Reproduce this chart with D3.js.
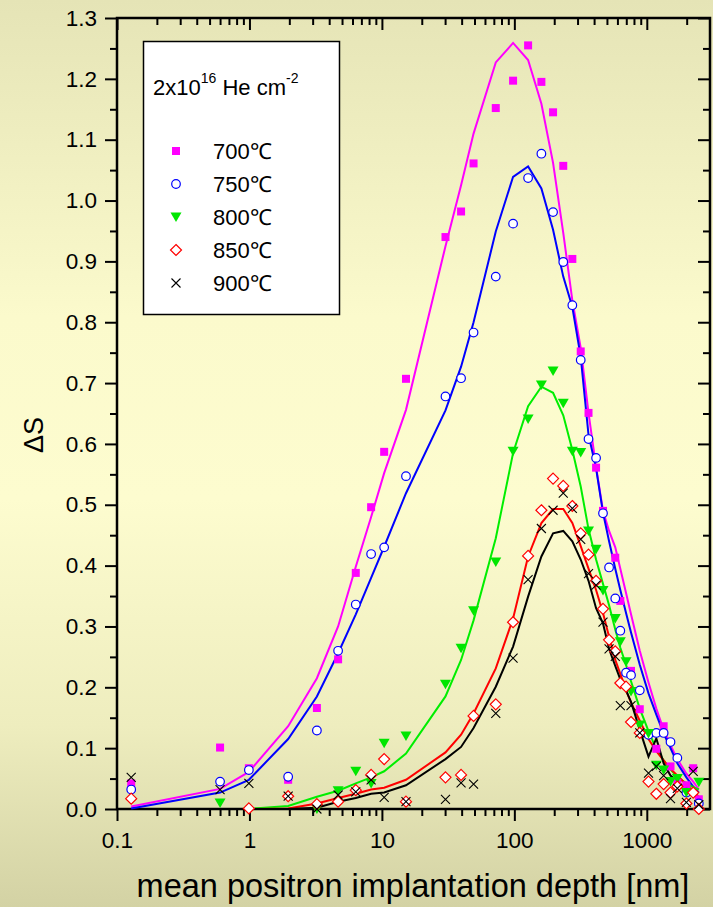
<!DOCTYPE html>
<html>
<head>
<meta charset="utf-8">
<script src="https://cdn.jsdelivr.net/npm/d3@7"></script>
<style>
  html, body { margin: 0; padding: 0; }
  svg { display: block; font-family: "Liberation Sans", Arial, sans-serif; }
</style>
</head>
<body>
<svg id="chart"></svg>
<script>
// mean implantation depth (nm), shared by all series
const depth = [0.128, 0.60, 0.99, 1.96, 3.23, 4.67, 6.35, 8.29, 10.4, 15.2, 30.2, 39.6, 49.2, 72.4, 97.8,
  127, 160, 196, 234, 274, 317, 363, 414, 467, 519, 578, 631, 697, 760, 885, 1030, 1180, 1340, 1510, 1700,
  1990, 2240, 2470];

const labels = ['700℃', '750℃', '800℃', '850℃', '900℃'];

// measured ΔS
const s700 = [0.042, 0.101, 0.067, 0.048, 0.166, 0.246, 0.388, 0.496, 0.587, 0.707, 0.940, 0.982, 1.061, 1.152,
  1.197, 1.255, 1.195, 1.145, 1.057, 0.904, 0.752, 0.651, 0.561, 0.49, null, 0.413, 0.342, null, 0.227, 0.164,
  null, 0.099, 0.136, 0.070, 0.043, 0.039, 0.067, 0.016];
const s750 = [0.032, 0.045, 0.064, 0.053, 0.129, 0.260, 0.336, 0.419, 0.430, 0.547, 0.678, 0.708, 0.783, 0.875,
  0.962, 1.037, 1.077, 0.981, 0.899, 0.828, 0.738, 0.608, 0.577, 0.486, 0.397, 0.346, 0.293, 0.224, 0.220, 0.195,
  0.122, 0.125, 0.125, 0.110, 0.084, 0.027, null, 0.009];
const s800 = [null, 0.010, null, null, 0.0, 0.030, 0.062, 0.042, 0.108, 0.120, 0.205, 0.264, 0.326, 0.406,
  0.588, 0.641, 0.697, 0.720, 0.667, 0.588, 0.586, 0.457, 0.427, 0.359, null, 0.313, 0.275, 0.242, 0.193, 0.138,
  0.124, 0.072, 0.064, 0.045, 0.05, 0.027, null, 0.044];
const s850 = [0.017, null, 0.001, 0.021, 0.008, 0.012, 0.031, 0.056, 0.082, 0.012, 0.052, 0.056, 0.153, 0.172,
  0.307, 0.416, 0.491, 0.543, 0.531, 0.498, 0.453, 0.418, 0.375, 0.329, 0.278, 0.259, 0.207, 0.201, 0.143, 0.125,
  0.045, 0.025, 0.041, 0.027, 0.037, 0.009, 0.027, 0.0];
const s900 = [0.052, 0.032, 0.042, 0.021, 0.0, 0.023, 0.028, 0.048, 0.019, 0.012, 0.016, 0.043, 0.041, 0.157,
  0.248, 0.377, 0.461, 0.491, 0.519, 0.494, 0.443, 0.387, 0.368, 0.307, 0.263, 0.251, 0.17, null, 0.17, 0.125,
  0.059, 0.07, 0.055, 0.017, 0.034, 0.011, 0.062, 0.007];

// fitted curves
const f700 = [0.004, 0.033, 0.061, 0.136, 0.215, 0.30, 0.398, 0.480, 0.552, 0.656, 0.925, 1.025, 1.110, 1.227,
  1.259, 1.231, 1.159, 1.062, 0.947, 0.836, 0.758, 0.651, 0.562, 0.49, 0.457, 0.43, 0.395, 0.355, 0.32, 0.26,
  0.208, 0.165, 0.13, 0.105, 0.082, 0.058, 0.045, 0.032];
const f750 = [0.001, 0.027, 0.048, 0.115, 0.185, 0.256, 0.320, 0.380, 0.431, 0.519, 0.655, 0.727, 0.80, 0.949,
  1.039, 1.056, 1.020, 0.952, 0.875, 0.825, 0.743, 0.615, 0.56, 0.487, 0.44, 0.395, 0.36, 0.322, 0.29, 0.237,
  0.19, 0.155, 0.124, 0.10, 0.075, 0.052, 0.037, 0.027];
const f800 = [null, null, 0.0, 0.005, 0.020, 0.030, 0.042, 0.052, 0.062, 0.091, 0.185, 0.245, 0.31, 0.445,
  0.585, 0.662, 0.694, 0.684, 0.647, 0.59, 0.53, 0.46, 0.41, 0.37, 0.335, 0.295, 0.265, 0.237, 0.21, 0.165,
  0.128, 0.098, 0.08, 0.065, 0.052, 0.042, 0.036, 0.032];
const f850 = [null, null, 0.0, 0.001, 0.009, 0.018, 0.025, 0.032, 0.035, 0.048, 0.093, 0.122, 0.157, 0.231,
  0.313, 0.415, 0.47, 0.493, 0.493, 0.47, 0.432, 0.395, 0.36, 0.322, 0.283, 0.245, 0.222, 0.195, 0.175, 0.145,
  0.115, 0.095, 0.08, 0.066, 0.055, 0.04, 0.03, 0.02];
const f900 = [null, null, 0.0, 0.0, 0.002, 0.012, 0.018, 0.025, 0.027, 0.039, 0.082, 0.102, 0.133, 0.201,
  0.267, 0.349, 0.415, 0.453, 0.457, 0.44, 0.41, 0.375, 0.33, 0.305, 0.263, 0.235, 0.213, 0.195, 0.176, 0.13,
  0.086, 0.116, 0.075, 0.055, 0.045, 0.033, 0.024, 0.016];

const xTicks = [0.1, 1, 10, 100, 1000];
const yTicks = [0, 0.1, 0.2, 0.3, 0.4, 0.5, 0.6, 0.7, 0.8, 0.9, 1.0, 1.1, 1.2, 1.3];

const width = 713, height = 907;
const m = { left: 117, right: 710, top: 18, bottom: 809 };

const svg = d3.select('#chart').attr('width', width).attr('height', height);

// background gradient
const grad = svg.append('defs').append('linearGradient')
  .attr('id', 'bg').attr('x1', 0).attr('y1', 0).attr('x2', 0).attr('y2', 1);
[[0, '#e5e4b6'], [0.35, '#fbfacc'], [0.55, '#fdfccf'], [0.8, '#eeedbe'], [1, '#d3d2a4']].forEach(s => {
  grad.append('stop').attr('offset', s[0]).attr('stop-color', s[1]);
});
svg.append('rect').attr('width', width).attr('height', height).attr('fill', 'url(#bg)');

const x = d3.scaleLog().domain([0.1, 3000]).range([m.left, m.right]);
const y = d3.scaleLinear().domain([0, 1.3]).range([m.bottom, m.top]);

const minorX = [];
for (let p = -1; p <= 3; p++) {
  for (let k = 2; k <= 9; k++) {
    const v = k * Math.pow(10, p);
    if (v < 3000) minorX.push(v);
  }
}
const minorY = d3.range(0.05, 1.3, 0.1);

function styleAxis(g) {
  g.selectAll('.domain').remove();
  g.selectAll('line').attr('stroke', '#000').attr('stroke-width', 2);
  g.selectAll('text').attr('font-size', 22.5).attr('fill', '#000');
}

// bottom axis
svg.append('g').attr('transform', `translate(0,${m.bottom})`)
  .call(d3.axisBottom(x).tickValues(xTicks).tickSize(12).tickPadding(11)
    .tickFormat(d => d >= 1 ? d3.format('d')(d) : '0.1'))
  .call(styleAxis);
svg.append('g').attr('transform', `translate(0,${m.bottom})`)
  .call(d3.axisBottom(x).tickValues(minorX).tickSize(7).tickFormat(''))
  .call(styleAxis);
// top axis (mirror, inward)
svg.append('g').attr('transform', `translate(0,${m.top})`)
  .call(d3.axisBottom(x).tickValues(xTicks).tickSize(12).tickFormat(''))
  .call(styleAxis);
svg.append('g').attr('transform', `translate(0,${m.top})`)
  .call(d3.axisBottom(x).tickValues(minorX).tickSize(7).tickFormat(''))
  .call(styleAxis);
// left axis
svg.append('g').attr('transform', `translate(${m.left},0)`)
  .call(d3.axisLeft(y).tickValues(yTicks).tickSize(12).tickPadding(8).tickFormat(d3.format('.1f')))
  .call(styleAxis);
svg.append('g').attr('transform', `translate(${m.left},0)`)
  .call(d3.axisLeft(y).tickValues(minorY).tickSize(7).tickFormat(''))
  .call(styleAxis);
// right axis (mirror, inward)
svg.append('g').attr('transform', `translate(${m.right},0)`)
  .call(d3.axisLeft(y).tickValues(yTicks).tickSize(12).tickFormat(''))
  .call(styleAxis);
svg.append('g').attr('transform', `translate(${m.right},0)`)
  .call(d3.axisLeft(y).tickValues(minorY).tickSize(7).tickFormat(''))
  .call(styleAxis);

svg.append('rect')
  .attr('x', m.left).attr('y', m.top)
  .attr('width', m.right - m.left).attr('height', m.bottom - m.top)
  .attr('fill', 'none').attr('stroke', '#000').attr('stroke-width', 2.5);

// axis titles
svg.append('text')
  .attr('x', 413).attr('y', 897)
  .attr('text-anchor', 'middle').attr('font-size', 32.5)
  .text('mean positron implantation depth [nm]');
svg.append('text')
  .attr('transform', 'translate(43,435) rotate(-90)')
  .attr('text-anchor', 'middle').attr('font-size', 27)
  .text('ΔS');

// markers
const sq = d3.symbol().type(d3.symbolSquare).size(64);
const series = [
  { label: labels[0], pts: s700, fit: f700, color: '#ff00ff',
    draw: g => g.append('path').attr('d', sq()).attr('fill', '#ff00ff') },
  { label: labels[1], pts: s750, fit: f750, color: '#0000ff',
    draw: g => g.append('circle').attr('r', 4.3).attr('fill', '#fff').attr('stroke', '#0000ff').attr('stroke-width', 1.2) },
  { label: labels[2], pts: s800, fit: f800, color: '#00ee00',
    draw: g => g.append('path').attr('d', 'M-5.5,-4.5L5.5,-4.5L0,5Z').attr('fill', '#00e600') },
  { label: labels[3], pts: s850, fit: f850, color: '#ff0000',
    draw: g => g.append('path').attr('d', 'M0,-5.5L5.5,0L0,5.5L-5.5,0Z').attr('fill', '#fff').attr('stroke', '#ff0000').attr('stroke-width', 1.2) },
  { label: labels[4], pts: s900, fit: f900, color: '#000000',
    draw: g => g.append('path').attr('d', 'M-4.5,-4.5L4.5,4.5M-4.5,4.5L4.5,-4.5').attr('stroke', '#000').attr('stroke-width', 1.1).attr('fill', 'none') }
];

const line = d3.line()
  .defined(d => d[1] !== null)
  .x(d => x(d[0]))
  .y(d => y(d[1]));

const plot = svg.append('g');
series.forEach(s => {
  plot.append('path')
    .datum(depth.map((d, i) => [d, s.fit[i]]))
    .attr('d', line)
    .attr('fill', 'none')
    .attr('stroke', s.color)
    .attr('stroke-width', 2);
});
series.forEach(s => {
  const pts = depth.map((d, i) => [d, s.pts[i]]).filter(p => p[1] !== null);
  plot.append('g').selectAll('g')
    .data(pts)
    .enter().append('g')
    .attr('transform', p => `translate(${x(p[0])},${y(p[1])})`)
    .each(function() { s.draw(d3.select(this)); });
});

// legend
const legend = svg.append('g');
legend.append('rect')
  .attr('x', 143.5).attr('y', 41.5).attr('width', 196).attr('height', 273)
  .attr('fill', '#fff').attr('stroke', '#000').attr('stroke-width', 1.5);
const title = legend.append('text').attr('x', 153).attr('y', 95).attr('font-size', 22);
title.append('tspan').text('2x10');
title.append('tspan').attr('dy', -12).attr('font-size', 14).text('16');
title.append('tspan').attr('dy', 12).text(' He cm');
title.append('tspan').attr('dy', -12).attr('font-size', 14).text('-2');

const rowY = d3.scalePoint().domain(labels).range([151, 283]);
series.forEach(s => {
  const g = legend.append('g').attr('transform', `translate(176,${rowY(s.label)})`);
  s.draw(g);
  legend.append('text')
    .attr('x', 213).attr('y', rowY(s.label) + 8)
    .attr('font-size', 22)
    .text(s.label);
});
</script>
</body>
</html>
